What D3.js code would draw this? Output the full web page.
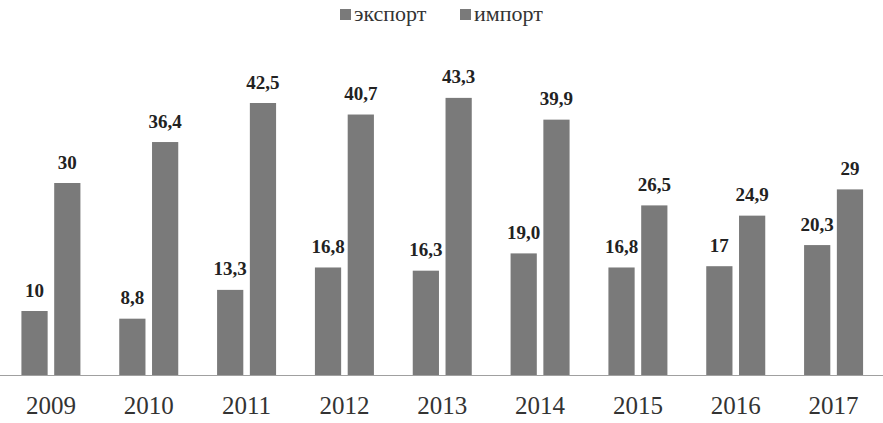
<!DOCTYPE html>
<html><head><meta charset="utf-8">
<script src="https://cdn.jsdelivr.net/npm/d3@7"></script>
</head><body style="margin:0">
<svg id="c" width="883" height="423" font-family="Liberation Serif"></svg>
<script>
const years = ["2009","2010","2011","2012","2013","2014","2015","2016","2017"];
const series = ["экспорт","импорт"];
const exportValues = [10, 8.8, 13.3, 16.8, 16.3, 19.0, 16.8, 17, 20.3];
const importValues = [30, 36.4, 42.5, 40.7, 43.3, 39.9, 26.5, 24.9, 29];
const exportLabels = ["10","8,8","13,3","16,8","16,3","19,0","16,8","17","20,3"];
const importLabels = ["30","36,4","42,5","40,7","43,3","39,9","26,5","24,9","29"];

const svg = d3.select("#c");
const color = "#7a7a7a";
const serif = "Liberation Serif";

const x0 = d3.scaleBand().domain(years).range([2, 882.5]);
const bw = x0.bandwidth();
const x1 = d3.scaleBand().domain(series).range([bw/2 - 29.5, bw/2 + 29.5]).paddingInner(0.2);
const y = d3.scaleLinear().domain([0, 50]).range([375, 55]);

const rows = years.map((yr, i) => ({
  year: yr,
  vals: [
    {s: series[0], v: exportValues[i], t: exportLabels[i]},
    {s: series[1], v: importValues[i], t: importLabels[i]}
  ]
}));

const g = svg.selectAll("g.grp").data(rows).join("g")
  .attr("transform", d => `translate(${x0(d.year)},0)`);

g.selectAll("rect").data(d => d.vals).join("rect")
  .attr("x", d => x1(d.s))
  .attr("width", x1.bandwidth())
  .attr("y", d => y(d.v))
  .attr("height", d => y(0) - y(d.v))
  .attr("fill", color);

g.selectAll("text").data(d => d.vals).join("text")
  .attr("x", d => x1(d.s) + x1.bandwidth()/2)
  .attr("y", d => y(d.v) - 14.5)
  .attr("text-anchor", "middle")
  .attr("font-family", serif)
  .attr("font-weight", "bold")
  .attr("font-size", 19)
  .attr("fill", "#222")
  .text(d => d.t);

const axis = svg.append("g").attr("transform", `translate(0,${y(0)})`)
  .call(d3.axisBottom(x0).tickSize(0).tickPadding(21));
axis.attr("font-family", serif).attr("font-size", 25);
axis.select(".domain").attr("stroke", "#a0a0a0").attr("d", "M0,0.5H883");
axis.selectAll("text").attr("fill", "#333");

const legend = svg.append("g");
const lx = [340, 460];
series.forEach((s, i) => {
  legend.append("rect").attr("x", lx[i]).attr("y", 9).attr("width", 11).attr("height", 11).attr("fill", color);
  legend.append("text").attr("x", lx[i] + 14).attr("y", 21)
    .attr("font-family", serif).attr("font-size", 22).attr("fill", "#333").text(s);
});
</script>
</body></html>
